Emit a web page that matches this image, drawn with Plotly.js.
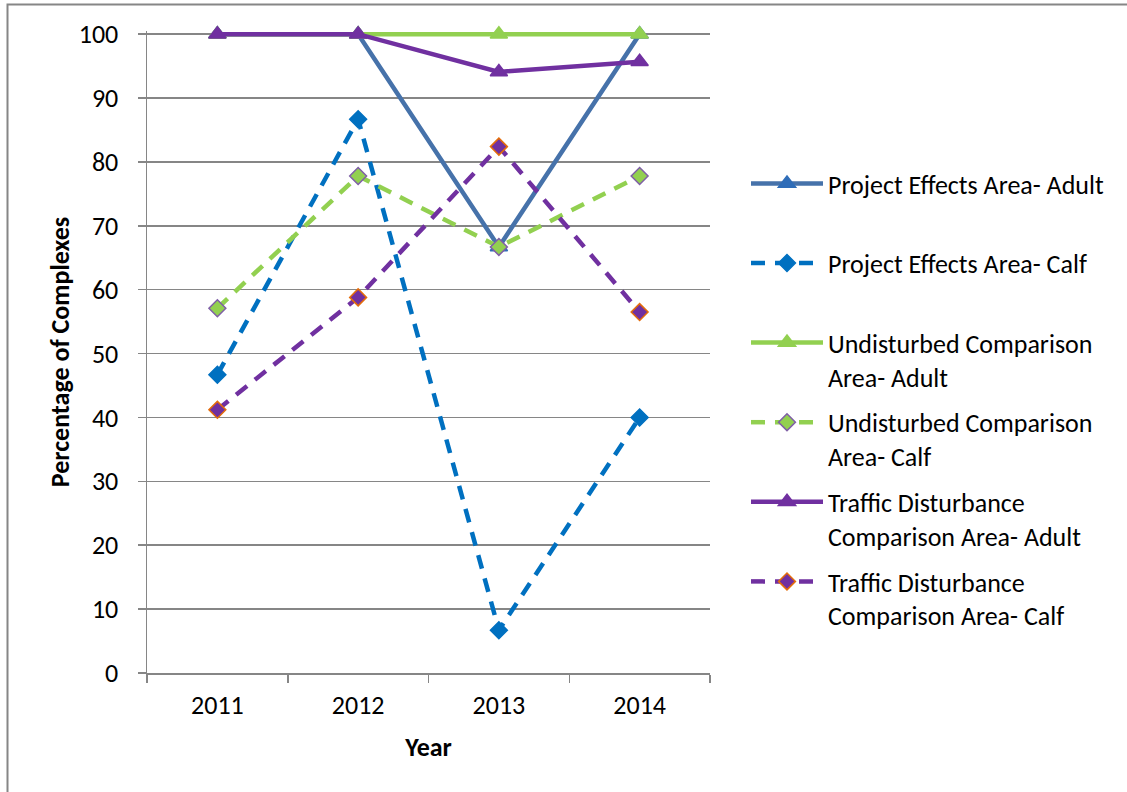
<!DOCTYPE html>
<html>
<head>
<meta charset="utf-8">
<script src="https://cdn.plot.ly/plotly-3.0.1.min.js"></script>
<style>
  html, body { margin: 0; padding: 0; background: #ffffff; }
  #chart { width: 1127px; height: 792px; }
</style>
</head>
<body>
<div id="chart"></div>
<script>
// Survey years (category axis)
const years = ['2011', '2012', '2013', '2014'];

// Percentage of complexes observed, per area and age class
const projectAdult = [100, 100, 66.7, 100];
const projectCalf = [46.7, 86.7, 6.7, 40];
const undisturbedAdult = [100, 100, 100, 100];
const undisturbedCalf = [57.1, 77.8, 66.7, 77.8];
const trafficAdult = [100, 100, 94.1, 95.7];
const trafficCalf = [41.2, 58.8, 82.4, 56.5];

// Legend labels (wrapped as in the printed legend)
const seriesNames = [
  'Project Effects Area- Adult<br> ',
  'Project Effects Area- Calf<br> ',
  'Undisturbed Comparison<br>Area- Adult',
  'Undisturbed Comparison<br>Area- Calf',
  'Traffic Disturbance<br>Comparison Area- Adult',
  'Traffic Disturbance<br>Comparison Area- Calf'
];

const yTicks = [0, 10, 20, 30, 40, 50, 60, 70, 80, 90, 100];

const FONT = 'Carlito, Lato, "Open Sans", sans-serif';
const FS = 26;
const DASH = '14px,10px';

function series(values, name, group, lineColor, dash, symbol, size, fill, outline) {
  return {
    x: years,
    y: values,
    name: name,
    legendgroup: group,
    type: 'scatter',
    mode: 'lines+markers',
    cliponaxis: false,
    line: { color: lineColor, width: 4.5, dash: dash },
    marker: {
      symbol: symbol,
      size: size,
      color: fill,
      line: { color: outline, width: 1.5 }
    },
    hoverinfo: 'x+y+name'
  };
}

const traces = [
  series(projectAdult, seriesNames[0], 'g1', '#4672AA', 'solid', 'triangle-up', 15, '#2F6DB8', '#2F6DB8'),
  series(projectCalf, seriesNames[1], 'g2', '#0070C0', DASH, 'diamond', 13, '#0070C0', '#0070C0'),
  series(undisturbedAdult, seriesNames[2], 'g3', '#92D050', 'solid', 'triangle-up', 15, '#92D050', '#92D050'),
  series(undisturbedCalf, seriesNames[3], 'g4', '#92D050', DASH, 'diamond', 13, '#92D050', '#7F5FA6'),
  series(trafficAdult, seriesNames[4], 'g5', '#7030A0', 'solid', 'triangle-up', 15, '#7030A0', '#7030A0'),
  series(trafficCalf, seriesNames[5], 'g6', '#7030A0', DASH, 'diamond', 13, '#7030A0', '#E46C0A')
];

// Plot-area geometry; the value range is padded slightly above 100 so
// lines running along the top gridline are not clipped.
const Y_MAX = 100.5;
const L = 147, R = 710, T = 31, B = 673;
const px = v => (v - L) / (R - L);
const py = v => (B - v) / (B - T);

const layout = {
  width: 1127,
  height: 792,
  margin: { l: L, r: 1127 - R, t: T, b: 792 - B },
  paper_bgcolor: '#ffffff',
  plot_bgcolor: '#ffffff',
  font: { family: FONT, size: FS, color: '#000000' },
  showlegend: true,
  legend: {
    x: px(746),
    y: py(160),
    xanchor: 'left',
    yanchor: 'top',
    valign: 'top',
    itemwidth: 72,
    tracegroupgap: 9,
    traceorder: 'grouped',
    font: { family: FONT, size: FS, color: '#000000' },
    bgcolor: 'rgba(0,0,0,0)'
  },
  xaxis: {
    type: 'category',
    range: [-0.5, 3.5],
    tickmode: 'array',
    tickvals: years,
    ticktext: years,
    tickson: 'boundaries',
    ticks: 'outside',
    ticklen: 8,
    tickwidth: 1.5,
    tickcolor: '#868686',
    showline: true,
    linecolor: '#868686',
    linewidth: 1.5,
    showgrid: false,
    zeroline: false,
    ticklabelstandoff: 8,
    tickfont: { family: FONT, size: FS },
    title: { text: '<b>Year</b>', font: { family: FONT, size: FS }, standoff: 18 }
  },
  yaxis: {
    range: [0, Y_MAX],
    tickmode: 'array',
    tickvals: yTicks,
    ticks: 'outside',
    ticklen: 8,
    tickwidth: 1.5,
    tickcolor: '#868686',
    showline: true,
    linecolor: '#868686',
    linewidth: 1.5,
    showgrid: true,
    gridcolor: '#868686',
    gridwidth: 1.5,
    zeroline: false,
    ticklabelstandoff: 14,
    tickfont: { family: FONT, size: FS },
    title: { text: '<b>Percentage of Complexes</b>', font: { family: FONT, size: FS }, standoff: 1 }
  },
  shapes: [{
    type: 'rect',
    xref: 'paper', yref: 'paper',
    x0: px(7.5), x1: px(1140),
    y0: py(800), y1: py(4.5),
    line: { color: '#868686', width: 2 },
    fillcolor: 'rgba(0,0,0,0)',
    layer: 'above'
  }]
};

Plotly.newPlot('chart', traces, layout, { displayModeBar: false, staticPlot: true });
</script>
</body>
</html>
